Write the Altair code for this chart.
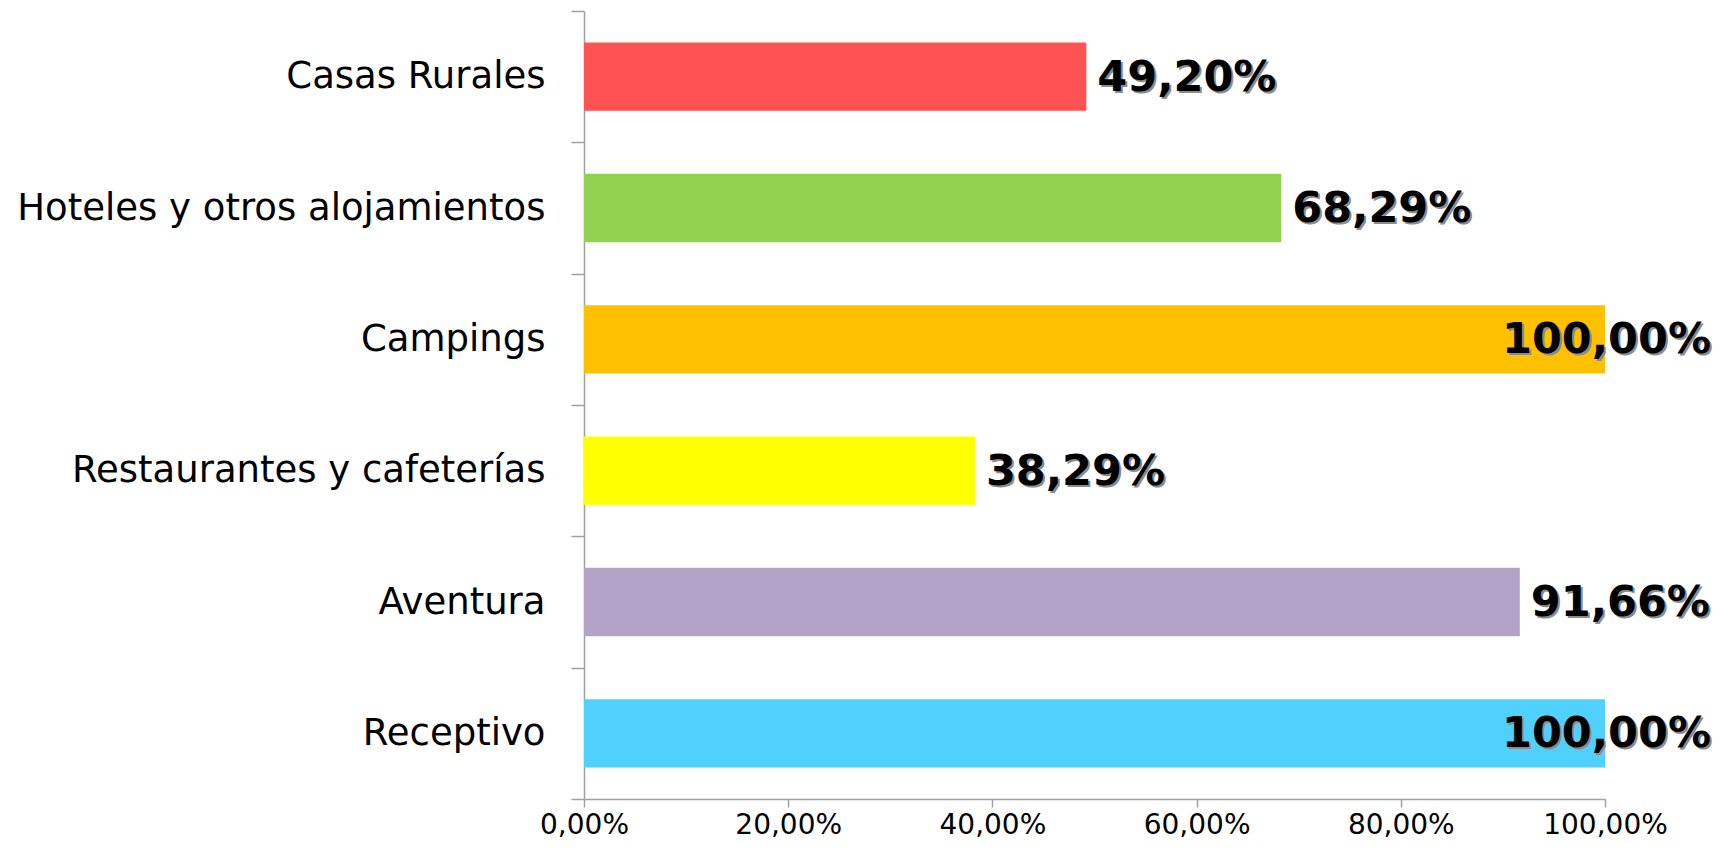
import altair as alt
import pandas as pd

categories = ["Casas Rurales", "Hoteles y otros alojamientos", "Campings",
              "Restaurantes y cafeterías", "Aventura", "Receptivo"]
values = [0.4920, 0.6829, 1.0000, 0.3829, 0.9166, 1.0000]
colors = ["#FF5252", "#92D050", "#FFC000", "#FFFF00", "#B2A2C8", "#50D1FD"]
x_ticks = [0, 0.2, 0.4, 0.6, 0.8, 1.0]

df = pd.DataFrame({"cat": categories, "value": values, "color": colors})

fmt = "replace(format(datum.value, '.2%'), '.', ',')"

y_enc = alt.Y("cat:N", sort=categories,
              scale=alt.Scale(paddingInner=0, paddingOuter=0),
              axis=alt.Axis(title=None, tickBand="extent", domainColor="#A0A0A0",
                            tickColor="#A0A0A0", domainWidth=1.5, tickWidth=1.5,
                            tickSize=13, labelPadding=26, labelLimit=0,
                            labelFont="DejaVu Sans", labelFontSize=37,
                            labelColor="#000000"))
x_enc = alt.X("value:Q", scale=alt.Scale(domain=[0, 1], nice=False),
              axis=alt.Axis(title=None, values=x_ticks, grid=False,
                            domainColor="#A0A0A0", tickColor="#A0A0A0",
                            domainWidth=1.5, tickWidth=1.5, tickSize=8,
                            labelPadding=4, labelFont="DejaVu Sans",
                            labelFontSize=28, labelColor="#000000",
                            labelFlush=False, labelOverlap=False,
                            labelExpr=fmt))

base = alt.Chart(df).transform_calculate(label=fmt)

bars = base.mark_bar(height={"band": 0.52}).encode(
    x=x_enc, y=y_enc,
    color=alt.Color("color:N", scale=None, legend=None))

txt_style = dict(font="DejaVu Sans", fontSize=43, fontWeight="bold", baseline="middle")

lt = alt.datum.value < 0.999
ge = alt.datum.value >= 0.999

def lab(filt, align, dx, dy, color):
    return base.transform_filter(filt).mark_text(
        align=align, dx=dx, dy=dy, color=color, **txt_style).encode(
        x="value:Q", y=alt.Y("cat:N", sort=categories), text="label:N")

layers = [
    bars,
    lab(lt, "left", 13, 3, "#8C8C8C"),
    lab(lt, "left", 11, 1, "#000000"),
    lab(ge, "right", 108, 3, "#8C8C8C"),
    lab(ge, "right", 106, 1, "#000000"),
]

chart = alt.layer(*layers).properties(
    width=1021, height=788,
    autosize=alt.AutoSizeParams(type="none"),
    padding={"left": 576, "top": 3, "right": 111, "bottom": 43},
    background="white",
).configure_view(stroke=None)

chart.save("out.html", embed_options={"renderer": "svg", "actions": False})
